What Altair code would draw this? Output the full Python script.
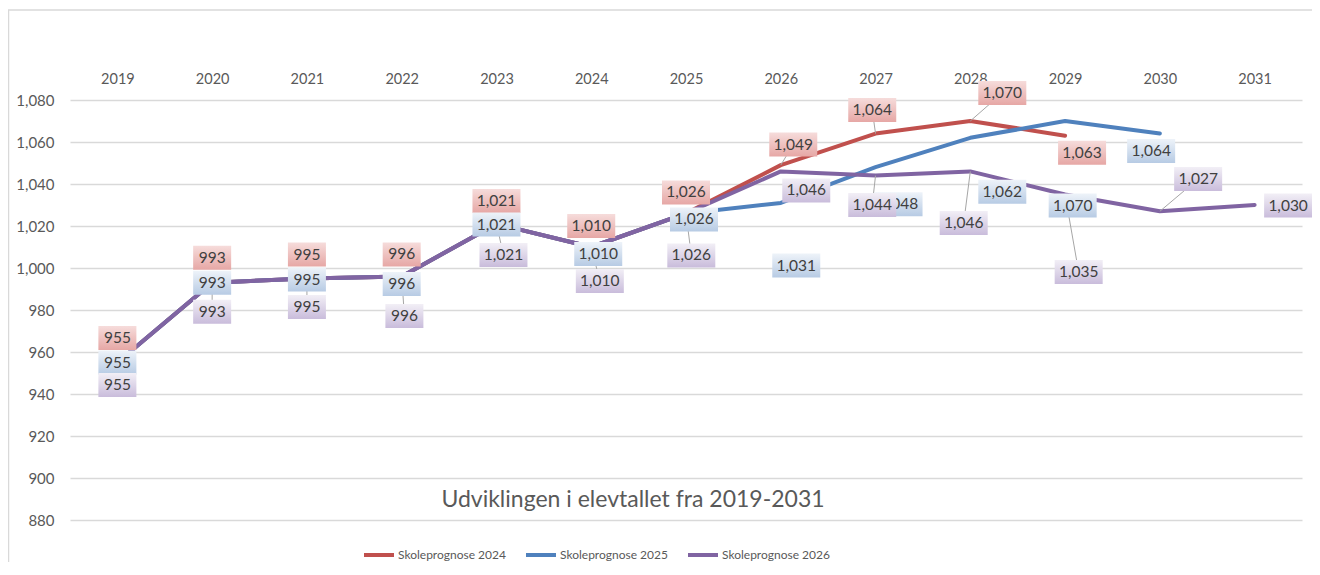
import altair as alt
import pandas as pd

# ---------------- data ----------------
years = list(range(2019, 2032))
series_names = ["Skoleprognose 2024", "Skoleprognose 2025", "Skoleprognose 2026"]
series_colors = ["#C0504D", "#4F81BD", "#8064A2"]
prog_2024 = [955, 993, 995, 996, 1021, 1010, 1026, 1049, 1064, 1070, 1063]
prog_2025 = [955, 993, 995, 996, 1021, 1010, 1026, 1031, 1048, 1062, 1070, 1064]
prog_2026 = [955, 993, 995, 996, 1021, 1010, 1026, 1046, 1044, 1046, 1035, 1027, 1030]
y_ticks = list(range(880, 1081, 20))
title_text = "Udviklingen i elevtallet fra 2019-2031"

# ------------- label placement (pixel offsets of each data label from its point) -------------
lbl_dx_2024 = [0, 0, 0, 0, 0, 0, 0, 12.5, -3.3, 32, 17]
lbl_dy_2024 = [-24.5, -25, -24, -22, -23, -21, -21, -20.6, -23.6, -28, 17]
lead_2024 = [0, 0, 0, 0, 0, 0, 0, 1, 1, 1, 0]
lbl_dx_2025 = [0, 0, 0, 0, 0, 7, 8, 15.5, 23, 32, 7.6, -8.7]
lbl_dy_2025 = [0, 0, 1, 7.6, 0.6, 7, 6, 62.6, 37, 54, 84.5, 17.4]
lead_2025 = [0, 0, 0, 0, 0, 0, 0, 0, 0, 0, 0, 0]
lbl_dx_2026 = [0, 0, 0, 2.7, 7, 8.6, 5.3, 25.5, -3.3, -6.6, 13.6, 38.3, 33.5]
lbl_dy_2026 = [22.5, 29, 28.5, 39.6, 31, 34, 42, 19, 29.4, 51.6, 77.5, -32.3, 0.5]
lead_2026 = [0, 1, 1, 1, 1, 1, 1, 0, 1, 1, 1, 1, 0]

# gradient fills of the label boxes (top -> bottom)
box_grad = {
    "Skoleprognose 2024": ("#f6dcdb", "#e6a7a5"),
    "Skoleprognose 2025": ("#eef3f9", "#b7cbe4"),
    "Skoleprognose 2026": ("#f2eff6", "#c9bcdb"),
}

# ---------------- layout ----------------
W, H = 1232, 420
x_dom = [2018.5, 2031.5]
y_dom = [880, 1080]
pxx = W / (x_dom[1] - x_dom[0])
pxy = H / (y_dom[1] - y_dom[0])
BOX_H = 24

rows = []
for name, vals, dxs, dys, leads in [
    (series_names[0], prog_2024, lbl_dx_2024, lbl_dy_2024, lead_2024),
    (series_names[1], prog_2025, lbl_dx_2025, lbl_dy_2025, lead_2025),
    (series_names[2], prog_2026, lbl_dx_2026, lbl_dy_2026, lead_2026),
]:
    for yr, v, dx, dy, ld in zip(years, vals, dxs, dys, leads):
        bw = 48 if v >= 1000 else 38
        lx = yr + dx / pxx
        ly = v - dy / pxy
        rows.append(dict(series=name, year=yr, value=v, lx=lx, ly=ly,
                         bx1=lx - bw / 2 / pxx, bx2=lx + bw / 2 / pxx,
                         by1=ly - BOX_H / 2 / pxy, by2=ly + BOX_H / 2 / pxy,
                         leader=ld))
df = pd.DataFrame(rows)

xs = alt.Scale(domain=x_dom, nice=False, zero=False)
ys = alt.Scale(domain=y_dom, nice=False, zero=False)
FONT = "Lato"

base = alt.Chart(df)

lines = base.mark_line(strokeWidth=4, strokeCap="round", strokeJoin="round").encode(
    x=alt.X("year:Q", scale=xs,
            axis=alt.Axis(orient="top", values=years, format="d", title=None, grid=False,
                          domain=False, ticks=False, labelPadding=14, labelFontSize=14.5,
                          labelColor="#595959", labelFont=FONT)),
    y=alt.Y("value:Q", scale=ys,
            axis=alt.Axis(values=y_ticks, format=",d", title=None, grid=True,
                          gridColor="#d9d9d9", gridWidth=1.3, domain=False, ticks=False,
                          labelPadding=16, labelFontSize=15, labelColor="#595959",
                          labelFont=FONT)),
    color=alt.Color("series:N", scale=alt.Scale(domain=series_names, range=series_colors),
                    sort=series_names,
                    legend=alt.Legend(title=None, orient="none", direction="horizontal",
                                      legendX=292, legendY=438, symbolType="stroke",
                                      symbolSize=900, symbolStrokeWidth=4,
                                      labelOffset=2, columnPadding=12,
                                      labelFont=FONT, labelFontSize=12,
                                      labelColor="#595959")),
    order=alt.Order("year:Q"),
)

leaders = base.transform_filter("datum.leader == 1").mark_rule(
    color="#a6a6a6", strokeWidth=1
).encode(
    x=alt.X("year:Q", scale=xs), y=alt.Y("value:Q", scale=ys),
    x2="lx:Q", y2="ly:Q",
)

label_layers = []
for name in series_names:
    top, bot = box_grad[name]
    sub = base.transform_filter(alt.datum.series == name)
    rect = sub.mark_rect(
        fill=alt.Gradient(gradient="linear", x1=0, x2=0, y1=0, y2=1,
                          stops=[alt.GradientStop(color=top, offset=0),
                                 alt.GradientStop(color=bot, offset=1)])
    ).encode(
        x=alt.X("bx1:Q", scale=xs), x2="bx2:Q",
        y=alt.Y("by1:Q", scale=ys), y2="by2:Q",
    )
    txt = sub.mark_text(font=FONT, fontSize=15.5, color="#404040", align="center",
                        baseline="middle").encode(
        x=alt.X("lx:Q", scale=xs), y=alt.Y("ly:Q", scale=ys),
        text=alt.Text("value:Q", format=",d"),
    )
    label_layers += [rect, txt]

one = alt.Data(values=[{"t": title_text}])
title = alt.Chart(one).mark_text(font=FONT, fontSize=23, color="#595959",
                                 align="center", baseline="middle").encode(
    x=alt.value(563), y=alt.value(400), text="t:N")

frame = alt.Chart(alt.Data(values=[{"a": 1}])).mark_rect(
    fill=None, stroke="#d9d9d9", strokeWidth=1.5
).encode(x=alt.value(-61.5), x2=alt.value(W + 60), y=alt.value(-90), y2=alt.value(H + 80))

chart = alt.layer(frame, lines, leaders, *label_layers, title).properties(
    width=W, height=H,
    autosize=alt.AutoSizeParams(type="none"),
    padding={"left": 62, "top": 92, "right": 10, "bottom": 42},
    background="white",
).configure_view(stroke=None)

chart.save("out.html", embed_options={"renderer": "svg", "actions": False})
